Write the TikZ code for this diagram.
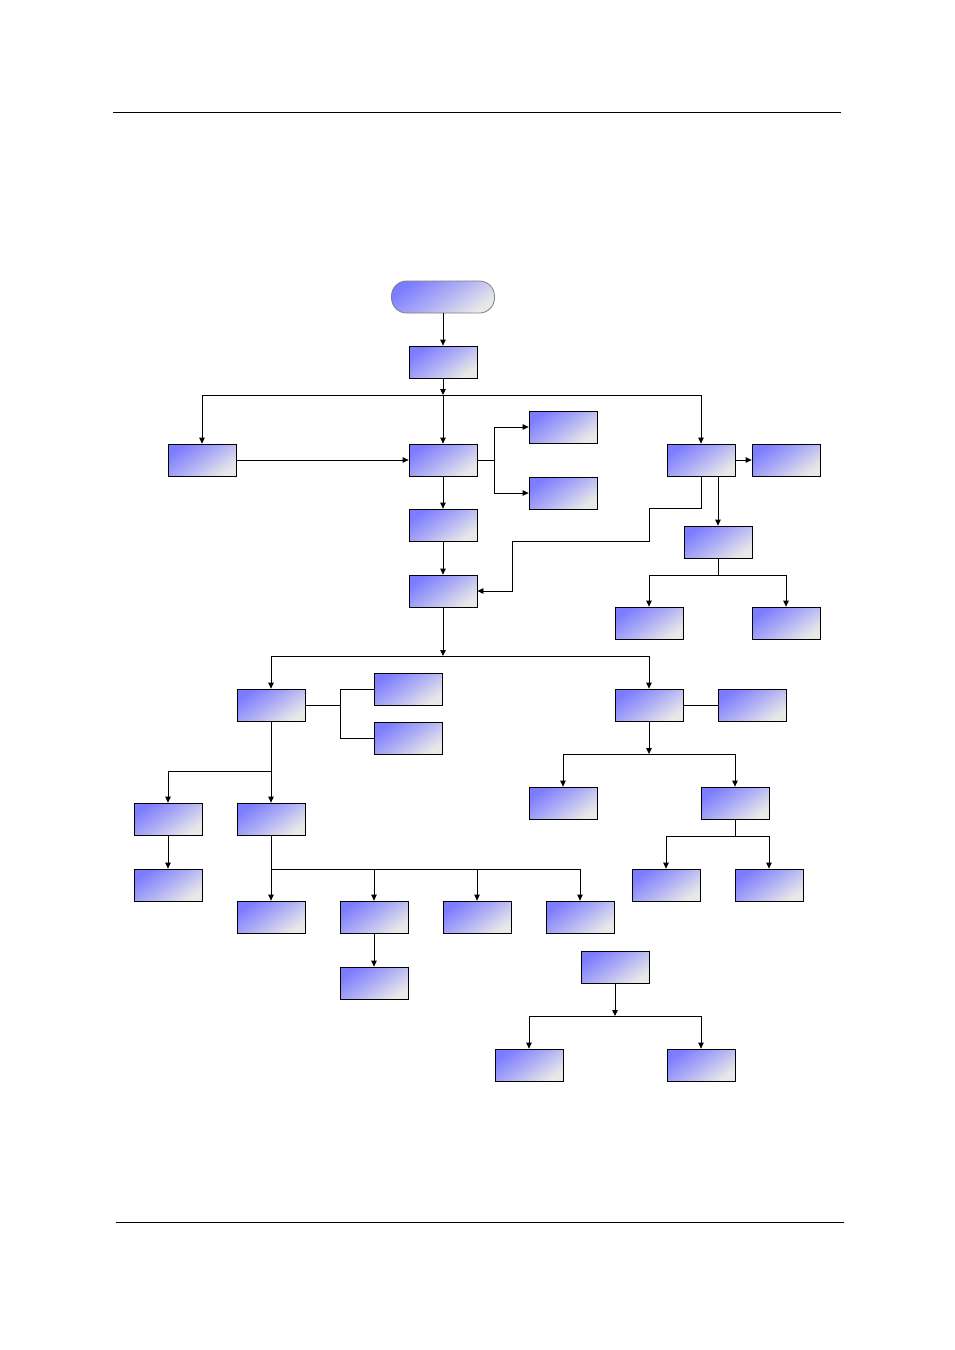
\documentclass[tikz,border=0pt]{standalone}
\usepackage{tikz}
\usetikzlibrary{arrows.meta, positioning}

\definecolor{boxblue}{RGB}{124,124,255}
\definecolor{boxmid}{RGB}{175,175,245}
\definecolor{boxpale}{RGB}{232,232,232}

\begin{document}
\begin{tikzpicture}[x=1pt, y=-1pt,
    blk/.style={draw, line width=0.8pt, rectangle, minimum width=68pt, minimum height=32pt, inner sep=0pt,
        top color=boxblue, bottom color=boxpale, middle color=boxmid, shading angle=35},
    arr/.style={-{Triangle[length=6pt, width=5.5pt]}, line width=0.8pt},
    ln/.style={line width=0.8pt}]
    \useasboundingbox (0,0) rectangle (954,1350);

    % page rules
    \draw[line width=0.6pt] (113,112) -- (841,112);
    \draw[line width=0.6pt] (116,1222) -- (844,1222);

    % start
    \node[draw=gray, line width=0.8pt, rectangle, rounded corners=15pt, minimum width=103pt, minimum height=32pt,
        top color=boxblue, bottom color=boxpale, middle color=boxmid, shading angle=35] (start) at (443,297) {};
    \node[blk] (top) at (443,362) {};

    % second level
    \node[blk] (left) at (202,460) {};
    \node[blk] (mid) at (443,460) {};
    \node[blk] (right) at (701,460) {};
    \node[blk] (rside) at (786,460) {};
    \node[blk] (mida) at (563,427) {};
    \node[blk] (midb) at (563,493) {};
    \node[blk] (mid2) at (443,525) {};
    \node[blk] (mid3) at (443,591) {};
    \node[blk] (rsub) at (718,542) {};
    \node[blk] (rsuba) at (649,623) {};
    \node[blk] (rsubb) at (786,623) {};

    % lower left branch
    \node[blk] (lb) at (271,705) {};
    \node[blk] (lbc) at (408,689) {};
    \node[blk] (lbd) at (408,738) {};
    \node[blk] (le) at (168,819) {};
    \node[blk] (lf) at (271,819) {};
    \node[blk] (lg) at (168,885) {};
    \node[blk] (h1) at (271,917) {};
    \node[blk] (h2) at (374,917) {};
    \node[blk] (h3) at (477,917) {};
    \node[blk] (h4) at (580,917) {};
    \node[blk] (h2a) at (374,983) {};

    % lower right branch
    \node[blk] (rb) at (649,705) {};
    \node[blk] (rbs) at (752,705) {};
    \node[blk] (rj) at (563,803) {};
    \node[blk] (rk) at (735,803) {};
    \node[blk] (rk1) at (666,885) {};
    \node[blk] (rk2) at (769,885) {};

    % bottom group
    \node[blk] (bn) at (615,967) {};
    \node[blk] (bn1) at (529,1065) {};
    \node[blk] (bn2) at (701,1065) {};

    % junctions
    \coordinate (j1) at (443,395);
    \coordinate (jm) at (494,460);
    \coordinate (j2) at (718,575);
    \coordinate (j3) at (443,656);
    \coordinate (jl) at (340,705);
    \coordinate (j4) at (271,771);
    \coordinate (j5) at (271,869);
    \coordinate (j6) at (649,754);
    \coordinate (j7) at (735,836);
    \coordinate (j8) at (615,1016);

    % Arrows
    \draw[arr] (start) -- (top);
    \draw[arr] (top) -- (j1);
    \draw[ln] (left |- j1) -- (right |- j1);
    \draw[arr] (left |- j1) -- (left);
    \draw[arr] (j1) -- (mid);
    \draw[arr] (right |- j1) -- (right);
    \draw[arr] (left) -- (mid);
    \draw[arr] (right) -- (rside);
    \draw[ln] (mid) -- (jm);
    \draw[arr] (jm) |- (mida);
    \draw[arr] (jm) |- (midb);
    \draw[arr] (mid) -- (mid2);
    \draw[arr] (mid2) -- (mid3);
    \draw[arr] (right.south) -- ++(0,32) -- ++(-52,0) -- ++(0,33) -- ++(-137,0) |- (mid3);
    \draw[arr] (right.south -| rsub) -- (rsub);
    \draw[ln] (rsub) -- (j2);
    \draw[ln] (rsuba |- j2) -- (rsubb |- j2);
    \draw[arr] (rsuba |- j2) -- (rsuba);
    \draw[arr] (rsubb |- j2) -- (rsubb);

    \draw[arr] (mid3) -- (j3);
    \draw[ln] (lb |- j3) -- (rb |- j3);
    \draw[arr] (lb |- j3) -- (lb);
    \draw[arr] (rb |- j3) -- (rb);

    \draw[ln] (lb) -- (jl);
    \draw[ln] (jl |- lbc) -- (jl |- lbd);
    \draw[ln] (jl |- lbc) -- (lbc);
    \draw[ln] (jl |- lbd) -- (lbd);
    \draw[arr] (lb) -- (lf);
    \draw[arr] (j4) -| (le);
    \draw[arr] (le) -- (lg);
    \draw[arr] (lf) -- (h1);
    \draw[ln] (j5) -- (h4 |- j5);
    \draw[arr] (h2 |- j5) -- (h2);
    \draw[arr] (h3 |- j5) -- (h3);
    \draw[arr] (h4 |- j5) -- (h4);
    \draw[arr] (h2) -- (h2a);

    \draw[ln] (rb) -- (rbs);
    \draw[arr] (rb) -- (j6);
    \draw[ln] (rj |- j6) -- (rk |- j6);
    \draw[arr] (rj |- j6) -- (rj);
    \draw[arr] (rk |- j6) -- (rk);
    \draw[ln] (rk) -- (j7);
    \draw[ln] (rk1 |- j7) -- (rk2 |- j7);
    \draw[arr] (rk1 |- j7) -- (rk1);
    \draw[arr] (rk2 |- j7) -- (rk2);

    \draw[arr] (bn) -- (j8);
    \draw[ln] (bn1 |- j8) -- (bn2 |- j8);
    \draw[arr] (bn1 |- j8) -- (bn1);
    \draw[arr] (bn2 |- j8) -- (bn2);
\end{tikzpicture}
\end{document}
